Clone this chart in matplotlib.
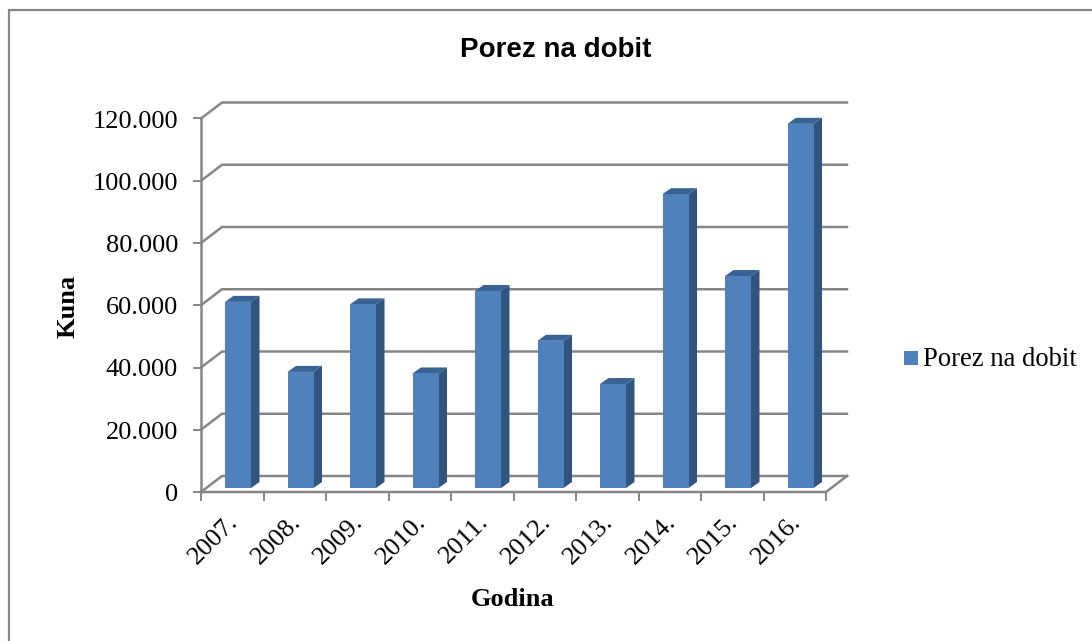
import matplotlib
matplotlib.use('Agg')
import matplotlib.pyplot as plt
from matplotlib.patches import Rectangle

years = ['2007.', '2008.', '2009.', '2010.', '2011.', '2012.', '2013.', '2014.', '2015.', '2016.']
tax = [59800, 37300, 59000, 36800, 63300, 47300, 33400, 94400, 68100, 117000]
y_ticks = [0, 20000, 40000, 60000, 80000, 100000, 120000]
y_labels = ['0', '20.000', '40.000', '60.000', '80.000', '100.000', '120.000']

W, H = 1092, 641
FACE = '#4F81BD'
SIDE = '#32557F'
TOP = '#3A6395'
GRID = '#868686'
SERIF = 'Liberation Serif'

fig = plt.figure(figsize=(W / 100, H / 100), dpi=100)
left, right, top, bottom = 201, 826, 118.5, 492
ax = fig.add_axes([left / W, 1 - bottom / H, (right - left) / W, (bottom - top) / H])
ax.set_xlim(0, len(years))
ax.set_ylim(0, 120000)
ax.axis('off')

# depth of the fake 3d box, in data units
px_x = len(years) / (right - left)
px_y = 120000 / (bottom - top)
depth_x = 21 * px_x
depth_y = 16 * px_y

# back wall gridlines and the slanted bits on the left
for t in y_ticks:
    ax.plot([0, depth_x, len(years) + depth_x], [t, t + depth_y, t + depth_y],
            color=GRID, lw=1.8, clip_on=False, zorder=1, solid_joinstyle='miter')
    ax.plot([-7 * px_x, 0], [t, t], color=GRID, lw=1.4, clip_on=False, zorder=2)

# floor front edge and left axis
ax.plot([0, len(years), len(years) + depth_x], [0, 0, depth_y], color=GRID, lw=1.8, clip_on=False, zorder=2)
ax.plot([0, 0], [0, 120000], color=GRID, lw=1.8, clip_on=False, zorder=2)
for i in range(len(years) + 1):
    ax.plot([i, i], [0, -8 * px_y], color=GRID, lw=1.4, clip_on=False, zorder=2)

# bars: front face plus side and top faces
bar_w = 26 * px_x
bar_dx = 8.5 * px_x
bar_dy = 6 * px_y
base = 4 * px_y
for i, v in enumerate(tax):
    x0 = i + 24 * px_x
    x1 = x0 + bar_w
    y1 = base + v
    ax.bar(x0, v, width=bar_w, bottom=base, align='edge', color=FACE, zorder=4, clip_on=False)
    ax.fill([x1, x1 + bar_dx, x1 + bar_dx, x1], [base, base + bar_dy, y1 + bar_dy, y1],
            color=SIDE, lw=0, zorder=3, clip_on=False)
    ax.fill([x0, x0 + bar_dx, x1 + bar_dx, x1], [y1, y1 + bar_dy, y1 + bar_dy, y1],
            color=TOP, lw=0, zorder=3, clip_on=False)

for t, lab in zip(y_ticks, y_labels):
    ax.text(-23 * px_x, t - 3 * px_y, lab, ha='right', va='center', family=SERIF, fontsize=19,
            color='black', clip_on=False)

for i, lab in enumerate(years):
    ax.text(i + 0.72 - 19 * px_x, -19 * px_y, lab, ha='right', va='top', rotation=45, rotation_mode='anchor',
            family=SERIF, fontsize=19, color='black', clip_on=False)

# outer chart frame
fig.add_artist(Rectangle((8.5 / W, -0.01), 1.1, 1 - 9.5 / H + 0.01, transform=fig.transFigure,
                         fill=False, edgecolor=GRID, lw=1.6))

fig.text(556 / W, 1 - 50 / H, 'Porez na dobit', ha='center', va='center', family='Liberation Sans',
         fontweight='bold', fontsize=20, color='black')
fig.text(513 / W, 1 - 600 / H, 'Godina', ha='center', va='center', family=SERIF, fontweight='bold',
         fontsize=19, color='black')
fig.text(68 / W, 1 - 306 / H, 'Kuna', ha='center', va='center', rotation=90, family=SERIF,
         fontweight='bold', fontsize=19, color='black')

# legend by hand so the swatch sits where it should
fig.add_artist(Rectangle((904 / W, 1 - 365 / H), 14 / W, 14 / H, transform=fig.transFigure, color=FACE, lw=0))
fig.text(923 / W, 1 - 359 / H, 'Porez na dobit', ha='left', va='center', family=SERIF, fontsize=19.2, color='black')

fig.savefig('out.png', dpi=100)
